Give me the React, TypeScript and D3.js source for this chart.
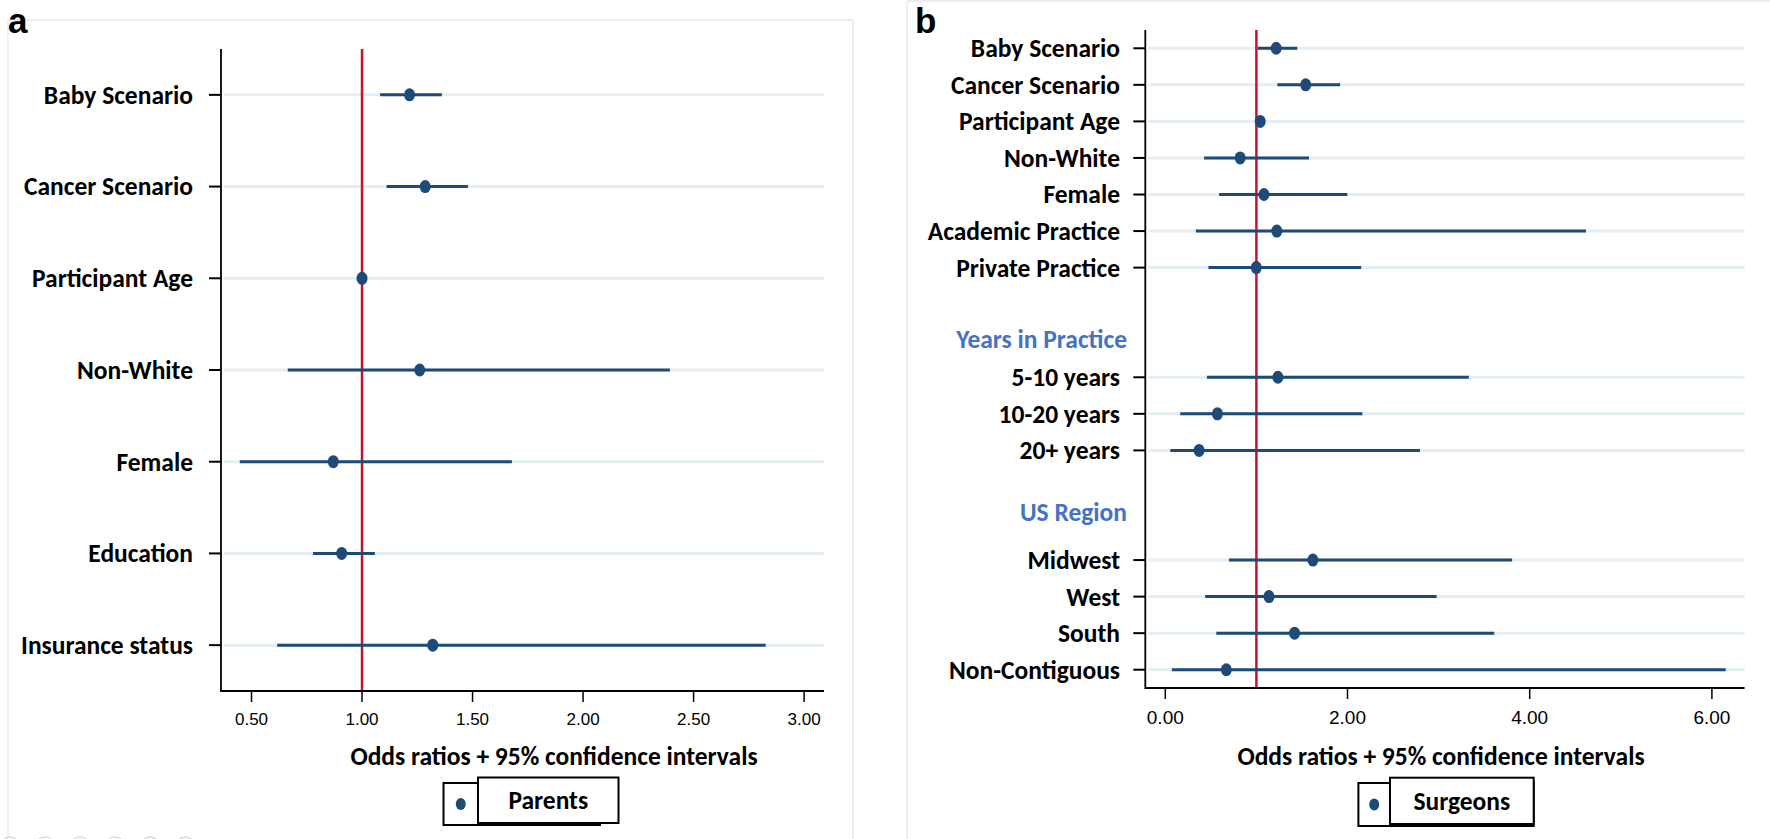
import React from "react";
import * as d3 from "d3";

// ---------- Panel a: Parents ----------
const parentCategories = [
  "Baby Scenario",
  "Cancer Scenario",
  "Participant Age",
  "Non-White",
  "Female",
  "Education",
  "Insurance status",
];
const parentOR = [1.215, 1.286, 1.0, 1.261, 0.87, 0.908, 1.32];
const parentLower = [1.082, 1.111, 0.995, 0.664, 0.447, 0.778, 0.616];
const parentUpper = [1.361, 1.479, 1.01, 2.393, 1.678, 1.058, 2.826];
const parentTicks = [0.5, 1.0, 1.5, 2.0, 2.5, 3.0];

// ---------- Panel b: Surgeons ----------
// null = empty slot in the list (gap)
const surgeonCategories: (string | null)[] = [
  "Baby Scenario",
  "Cancer Scenario",
  "Participant Age",
  "Non-White",
  "Female",
  "Academic Practice",
  "Private Practice",
  null,
  null,
  "5-10 years",
  "10-20 years",
  "20+ years",
  null,
  null,
  "Midwest",
  "West",
  "South",
  "Non-Contiguous",
];
const surgeonOR = [1.217, 1.541, 1.042, 0.822, 1.083, 1.224, 0.999, null, null, 1.236, 0.572, 0.371, null, null, 1.62, 1.138, 1.419, 0.67];
const surgeonLower = [1.016, 1.23, 1.01, 0.426, 0.591, 0.335, 0.474, null, null, 0.457, 0.164, 0.055, null, null, 0.7, 0.438, 0.56, 0.072];
const surgeonUpper = [1.449, 1.919, 1.08, 1.577, 1.998, 4.617, 2.15, null, null, 3.332, 2.163, 2.796, null, null, 3.807, 2.978, 3.611, 6.151];
const surgeonHeaders = ["Years in Practice", "US Region"];
const surgeonHeaderSlots = [7.95, 12.68];
const surgeonTicks = [0, 2, 4, 6];

const NAVY = "#1d4a76";
const RED = "#d0102a";
const GRID = "#e5eef2";
const HEADER_BLUE = "#4472c4";
const LABEL_FONT = "Carlito, Lato, 'Open Sans', sans-serif";
const TICK_FONT = "'Liberation Sans', Arial, sans-serif";
const LABEL_SIZE = 25.5;

type PanelProps = {
  letter: string;
  letterX: number;
  letterY: number;
  cats: (string | null)[];
  or: (number | null)[];
  lo: (number | null)[];
  hi: (number | null)[];
  headers?: string[];
  headerSlots?: number[];
  xDomain: [number, number];
  xRange: [number, number];
  yRange: [number, number];
  ticks: number[];
  tickFontSize: number;
  tickLabelY: number;
  labelRight: number;
  headerRight?: number;
  titleX: number;
  titleY: number;
  legendName: string;
  legend: { backX0: number; backX1: number; backY0: number; backY1: number; frontX0: number; frontX1: number; frontY0: number; frontY1: number };
  frame: { x0: number; x1: number; y0: number; y1: number };
};

function Panel(p: PanelProps) {
  const x = d3.scaleLinear().domain(p.xDomain).range(p.xRange);
  const n = p.cats.length;
  const y = d3.scaleLinear().domain([-0.5, n - 0.5]).range(p.yRange);
  const [xl, xr] = p.xRange;
  const [yt, yb] = p.yRange;
  const fmt = d3.format(".2f");
  const idx = d3.range(n).filter((i) => p.cats[i] !== null);
  const L = p.legend;
  return (
    <g>
      {/* faint frame */}
      <line x1={p.frame.x0} x2={p.frame.x1} y1={p.frame.y0} y2={p.frame.y0} stroke={GRID} strokeWidth={2} />
      <line x1={p.frame.x0} x2={p.frame.x0} y1={p.frame.y0} y2={p.frame.y1} stroke={GRID} strokeWidth={1.5} />
      {p.frame.x1 < 1700 && (
        <line x1={p.frame.x1} x2={p.frame.x1} y1={p.frame.y0} y2={p.frame.y1} stroke={GRID} strokeWidth={2} />
      )}
      <text x={p.letterX} y={p.letterY} fontFamily={TICK_FONT} fontWeight="bold" fontSize={35} fill="#000">
        {p.letter}
      </text>
      {/* gridlines */}
      {idx.map((i) => (
        <line key={"g" + i} x1={xl + 3} x2={xr} y1={y(i)} y2={y(i)} stroke={GRID} strokeWidth={3} />
      ))}
      {/* red reference line */}
      <line x1={x(1)} x2={x(1)} y1={yt} y2={yb} stroke={RED} strokeWidth={2.5} />
      {/* CIs and points */}
      {idx.map((i) => (
        <g key={"d" + i}>
          <line x1={x(p.lo[i] as number)} x2={x(p.hi[i] as number)} y1={y(i)} y2={y(i)} stroke={NAVY} strokeWidth={3} />
          <ellipse cx={x(p.or[i] as number)} cy={y(i)} rx={5.5} ry={6.5} fill={NAVY} />
        </g>
      ))}
      {/* axes */}
      <line x1={xl} x2={xl} y1={yt} y2={yb + 1} stroke="#000" strokeWidth={1.8} />
      <line x1={xl} x2={xr} y1={yb} y2={yb} stroke="#000" strokeWidth={1.8} />
      {idx.map((i) => (
        <g key={"yl" + i}>
          <line x1={xl - 12} x2={xl} y1={y(i)} y2={y(i)} stroke="#000" strokeWidth={2} />
          <text
            x={p.labelRight}
            y={y(i)}
            dy="0.35em"
            textAnchor="end"
            fontFamily={LABEL_FONT}
            fontWeight="bold"
            fontSize={LABEL_SIZE}
            fill="#000"
          >
            {p.cats[i]}
          </text>
        </g>
      ))}
      {p.headers &&
        p.headers.map((h, k) => (
          <text
            key={"h" + k}
            x={p.headerRight}
            y={y(p.headerSlots![k])}
            dy="0.35em"
            textAnchor="end"
            fontFamily={LABEL_FONT}
            fontWeight="bold"
            fontSize={LABEL_SIZE}
            fill={HEADER_BLUE}
          >
            {h}
          </text>
        ))}
      {p.ticks.map((t) => (
        <g key={"t" + t}>
          <line x1={x(t)} x2={x(t)} y1={yb} y2={yb + 11} stroke="#000" strokeWidth={1.5} />
          <text
            x={x(t)}
            y={p.tickLabelY}
            dy="0.35em"
            textAnchor="middle"
            fontFamily={TICK_FONT}
            fontSize={p.tickFontSize}
            fill="#000"
          >
            {fmt(t)}
          </text>
        </g>
      ))}
      <text
        x={p.titleX}
        y={p.titleY}
        dy="0.35em"
        textAnchor="middle"
        fontFamily={LABEL_FONT}
        fontWeight="bold"
        fontSize={LABEL_SIZE}
        fill="#000"
      >
        Odds ratios + 95% confidence intervals
      </text>
      {/* legend */}
      <rect x={L.backX0} y={L.backY0} width={L.backX1 - L.backX0} height={L.backY1 - L.backY0} fill="#fff" stroke="#000" strokeWidth={2} />
      <rect x={L.frontX0} y={L.frontY0} width={L.frontX1 - L.frontX0} height={L.frontY1 - L.frontY0} fill="#fff" stroke="#000" strokeWidth={2} />
      <ellipse cx={(L.backX0 + L.frontX0) / 2} cy={(L.backY0 + L.backY1) / 2} rx={5} ry={6} fill={NAVY} />
      <text
        x={(L.frontX0 + L.frontX1) / 2}
        y={(L.frontY0 + L.frontY1) / 2}
        dy="0.35em"
        textAnchor="middle"
        fontFamily={LABEL_FONT}
        fontWeight="bold"
        fontSize={LABEL_SIZE}
        fill="#000"
      >
        {p.legendName}
      </text>
    </g>
  );
}

export default function App() {
  const circles = d3.range(6);
  return (
    <svg
      width={1770}
      height={839}
      style={{ position: "absolute", left: 0, top: 0, background: "#fff" }}
    >
      <rect width={1770} height={839} fill="#fff" />
      <Panel
        letter="a"
        letterX={8}
        letterY={33}
        cats={parentCategories}
        or={parentOR}
        lo={parentLower}
        hi={parentUpper}
        xDomain={[0.362, 3.09]}
        xRange={[221, 824]}
        yRange={[49, 691]}
        ticks={parentTicks}
        tickFontSize={17}
        tickLabelY={719}
        labelRight={193}
        titleX={554}
        titleY={756}
        legendName="Parents"
        legend={{ backX0: 443.5, backX1: 600, backY0: 783, backY1: 825, frontX0: 478, frontX1: 618.5, frontY0: 777.5, frontY1: 823 }}
        frame={{ x0: 8, x1: 853, y0: 20, y1: 839 }}
      />
      <Panel
        letter="b"
        letterX={915}
        letterY={33}
        cats={surgeonCategories}
        or={surgeonOR}
        lo={surgeonLower}
        hi={surgeonUpper}
        headers={surgeonHeaders}
        headerSlots={surgeonHeaderSlots}
        xDomain={[-0.2195, 6.359]}
        xRange={[1145.3, 1744.6]}
        yRange={[30, 688]}
        ticks={surgeonTicks}
        tickFontSize={19}
        tickLabelY={717}
        labelRight={1120}
        headerRight={1127}
        titleX={1441}
        titleY={756}
        legendName="Surgeons"
        legend={{ backX0: 1358.4, backX1: 1533.7, backY0: 783, backY1: 826, frontX0: 1390, frontX1: 1533.7, frontY0: 777.7, frontY1: 824 }}
        frame={{ x0: 907, x1: 1770, y0: 1, y1: 839 }}
      />
      {circles.map((i) => (
        <circle key={i} cx={10 + i * 35} cy={846} r={9} fill="none" stroke="#d8d8d8" strokeWidth={1.5} />
      ))}
    </svg>
  );
}
